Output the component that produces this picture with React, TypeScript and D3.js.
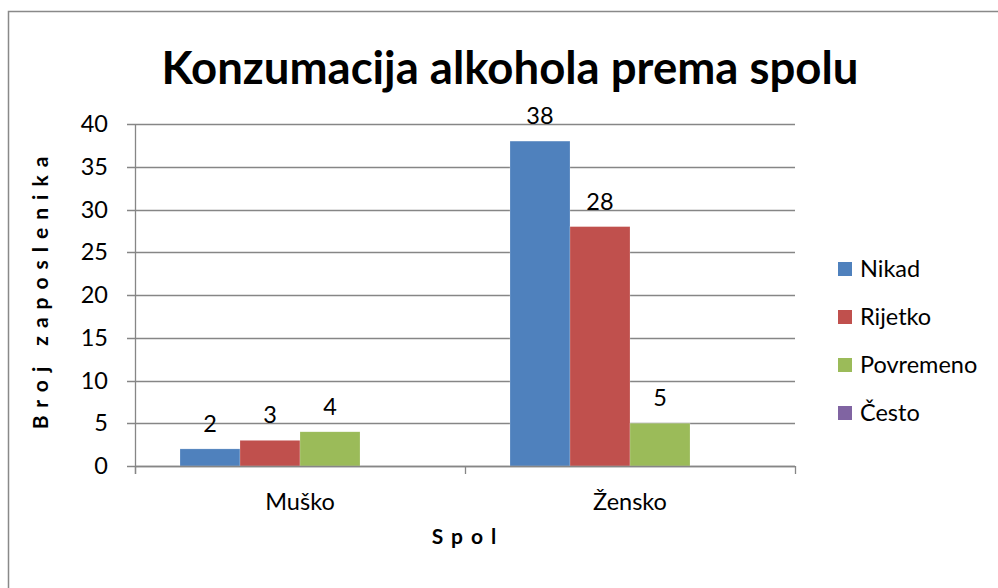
import React from 'react';
import { scaleBand, scaleLinear } from 'd3';

// podaci sa grafa
const categories = ['Muško', 'Žensko'];
const seriesNames = ['Nikad', 'Rijetko', 'Povremeno', 'Često'];
const nikad = [2, 38];
const rijetko = [3, 28];
const povremeno = [4, 5];
const cesto: (number | null)[] = [null, null];
const yTicks = [0, 5, 10, 15, 20, 25, 30, 35, 40];

const colors = ['#4F81BD', '#C0504D', '#9BBB59', '#8064A2'];
const font = 'Lato, "Open Sans", sans-serif';

const App = () => {
  const W = 998;
  const H = 588;
  const plot = { left: 135, right: 795, top: 124, bottom: 466 };

  const series = [nikad, rijetko, povremeno, cesto];

  const x0 = scaleBand<string>()
    .domain(categories)
    .range([plot.left, plot.right]);
  // gap width 150% -> 4 stupca po 60px u 330px
  const x1 = scaleBand<string>()
    .domain(seriesNames)
    .range([0, x0.bandwidth()])
    .paddingOuter(0.75)
    .paddingInner(0);
  const y = scaleLinear().domain([0, 40]).range([plot.bottom, plot.top]);

  const gridColor = '#868686';
  const fs = 23.5;

  return (
    <svg width={W} height={H} style={{ display: 'block', position: 'absolute', left: 0, top: 0 }}>
      <rect x={0} y={0} width={W} height={H} fill="#fff" />
      <rect x={8.5} y={11.5} width={W + 20} height={H + 20} fill="none" stroke="#898989" strokeWidth={1.5} />

      {/* naslov */}
      <text x={510} y={84} textAnchor="middle" fontFamily={font} fontWeight="bold" fontSize={45.5} fill="#000">
        Konzumacija alkohola prema spolu
      </text>

      {/* mreža */}
      {yTicks.map((t) => (
        <g key={t}>
          <line x1={plot.left - 8} x2={plot.right} y1={Math.round(y(t)) + 0.5} y2={Math.round(y(t)) + 0.5} stroke={gridColor} strokeWidth={1.3} />
          <text x={plot.left - 27} y={y(t)} dy="0.35em" textAnchor="end" fontFamily={font} fontSize={fs} fill="#000">
            {t}
          </text>
        </g>
      ))}

      {/* stupci */}
      {series.map((vals, si) =>
        categories.map((c, ci) => {
          const v = vals[ci];
          if (v == null) return null;
          const bx = (x0(c) ?? 0) + (x1(seriesNames[si]) ?? 0);
          return (
            <g key={si + '-' + ci}>
              <rect x={bx} y={y(v)} width={x1.bandwidth()} height={y(0) - y(v)} fill={colors[si]} stroke="#fff" strokeOpacity={0.4} strokeWidth={0.5} />
              <text x={bx + x1.bandwidth() / 2} y={y(v) - 17} textAnchor="middle" fontFamily={font} fontSize={fs} fill="#000">
                {v}
              </text>
            </g>
          );
        })
      )}

      {/* osi */}
      <line x1={plot.left + 0.5} x2={plot.left + 0.5} y1={plot.top} y2={plot.bottom + 8} stroke={gridColor} strokeWidth={1.3} />
      <line x1={plot.left} x2={plot.right} y1={plot.bottom + 0.5} y2={plot.bottom + 0.5} stroke={gridColor} strokeWidth={1.3} />
      {[plot.left, ...categories.map((c) => (x0(c) ?? 0) + x0.bandwidth())].map((tx, i) => (
        <line key={i} x1={tx + 0.5} x2={tx + 0.5} y1={plot.bottom} y2={plot.bottom + 8} stroke={gridColor} strokeWidth={1.3} />
      ))}
      {categories.map((c) => (
        <text key={c} x={(x0(c) ?? 0) + x0.bandwidth() / 2} y={510} textAnchor="middle" fontFamily={font} fontSize={fs} fill="#000">
          {c}
        </text>
      ))}

      {/* naslovi osi */}
      <text x={468} y={544} textAnchor="middle" fontFamily={font} fontWeight="bold" fontSize={21} letterSpacing={8} fill="#000">
        Spol
      </text>
      <text
        transform="translate(48, 289) rotate(-90)"
        textAnchor="middle"
        fontFamily={font}
        fontWeight="bold"
        fontSize={21}
        letterSpacing={8}
        fill="#000"
      >
        Broj zaposlenika
      </text>

      {/* legenda */}
      {seriesNames.map((s, i) => (
        <g key={s} transform={`translate(838, ${262 + i * 48})`}>
          <rect x={0} y={0} width={14} height={14} fill={colors[i]} />
          <text x={22} y={7} dy="0.35em" fontFamily={font} fontSize={fs} fill="#000">
            {s}
          </text>
        </g>
      ))}
    </svg>
  );
};

export default App;
